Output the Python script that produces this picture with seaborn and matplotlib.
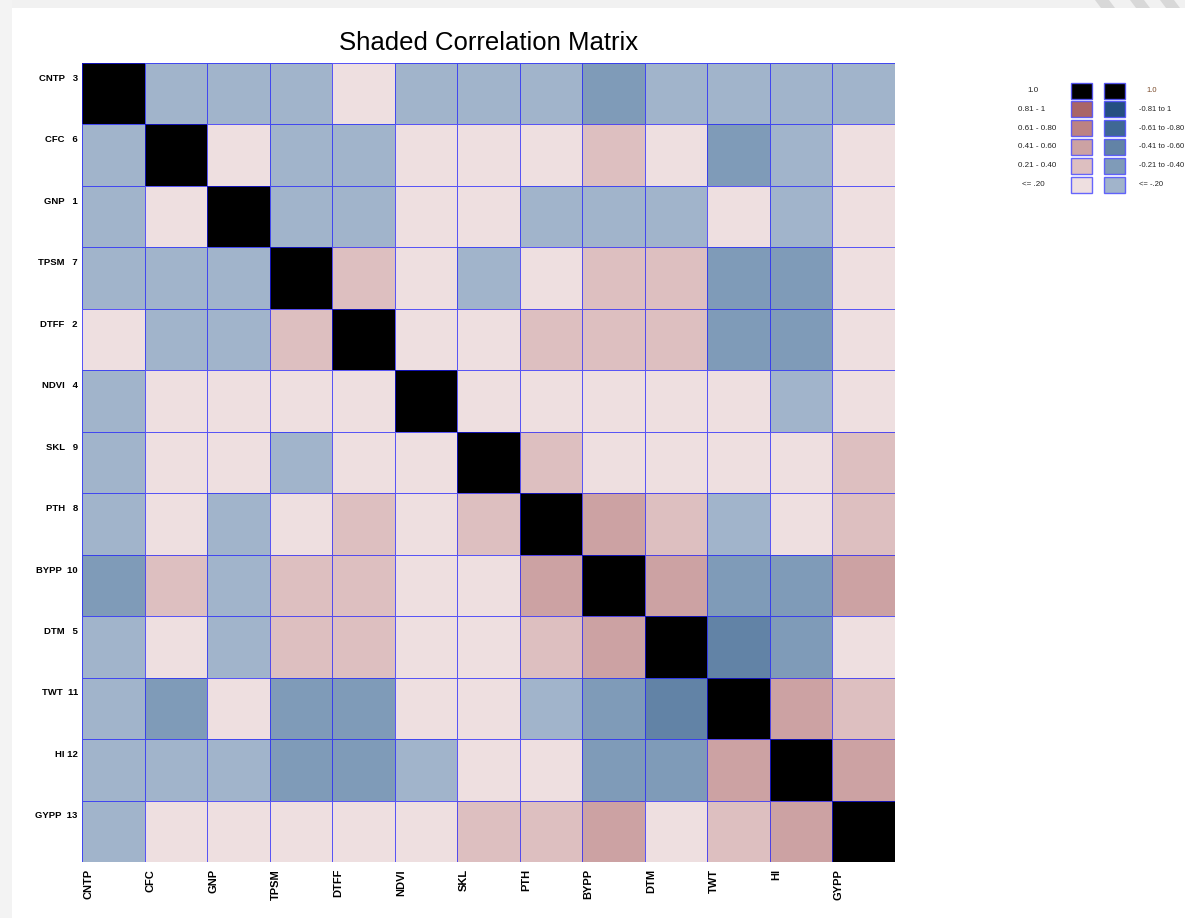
import numpy as np
import pandas as pd
import matplotlib
matplotlib.use("Agg")
import matplotlib.pyplot as plt
from matplotlib.colors import ListedColormap, BoundaryNorm
from matplotlib.patches import Rectangle, Polygon
import seaborn as sns

# ---------------- data ----------------
variables = ["CNTP", "CFC", "GNP", "TPSM", "DTFF", "NDVI", "SKL",
             "PTH", "BYPP", "DTM", "TWT", "HI", "GYPP"]
var_numbers = [3, 6, 1, 7, 2, 4, 9, 8, 10, 5, 11, 12, 13]

# approximate correlations read from the shading class of each cell
corr_rows = [
    [1.00, -0.12, -0.12, -0.12, 0.12, -0.12, -0.12, -0.12, -0.32, -0.12, -0.12, -0.12, -0.12],
    [-0.12, 1.00, 0.12, -0.12, -0.12, 0.12, 0.12, 0.12, 0.32, 0.12, -0.32, -0.12, 0.12],
    [-0.12, 0.12, 1.00, -0.12, -0.12, 0.12, 0.12, -0.12, -0.12, -0.12, 0.12, -0.12, 0.12],
    [-0.12, -0.12, -0.12, 1.00, 0.32, 0.12, -0.12, 0.12, 0.32, 0.32, -0.32, -0.32, 0.12],
    [0.12, -0.12, -0.12, 0.32, 1.00, 0.12, 0.12, 0.32, 0.32, 0.32, -0.32, -0.32, 0.12],
    [-0.12, 0.12, 0.12, 0.12, 0.12, 1.00, 0.12, 0.12, 0.12, 0.12, 0.12, -0.12, 0.12],
    [-0.12, 0.12, 0.12, -0.12, 0.12, 0.12, 1.00, 0.32, 0.12, 0.12, 0.12, 0.12, 0.32],
    [-0.12, 0.12, -0.12, 0.12, 0.32, 0.12, 0.32, 1.00, 0.52, 0.32, -0.12, 0.12, 0.32],
    [-0.32, 0.32, -0.12, 0.32, 0.32, 0.12, 0.12, 0.52, 1.00, 0.52, -0.32, -0.32, 0.52],
    [-0.12, 0.12, -0.12, 0.32, 0.32, 0.12, 0.12, 0.32, 0.52, 1.00, -0.50, -0.32, 0.12],
    [-0.12, -0.32, 0.12, -0.32, -0.32, 0.12, 0.12, -0.12, -0.32, -0.50, 1.00, 0.52, 0.32],
    [-0.12, -0.12, -0.12, -0.32, -0.32, -0.12, 0.12, 0.12, -0.32, -0.32, 0.52, 1.00, 0.52],
    [-0.12, 0.12, 0.12, 0.12, 0.12, 0.12, 0.32, 0.32, 0.52, 0.12, 0.32, 0.52, 1.00],
]

# legend classes
pos_labels = ["1.0", "0.81 - 1", "0.61 - 0.80", "0.41 - 0.60", "0.21 - 0.40", "<= .20"]
neg_labels = ["1.0", "-0.81 to 1", "-0.61 to -0.80", "-0.41 to -0.60", "-0.21 to -0.40", "<= -.20"]

# ---------------- colours / scale ----------------
neg_colors = ["#244F80", "#3F6894", "#6283A6", "#7F9BB8", "#A1B4CB"]   # -1 .. 0
pos_colors = ["#EEDFE0", "#DDBFC0", "#CCA2A3", "#BC8283", "#A96567"]   # 0 .. 1
diag_color = "#000000"
cmap = ListedColormap(neg_colors + pos_colors + [diag_color])
bounds = [-1.0, -0.805, -0.605, -0.405, -0.205, 0.0, 0.205, 0.405, 0.605, 0.805, 0.9999, 1.001]
norm = BoundaryNorm(bounds, cmap.N)

df = pd.DataFrame(corr_rows, index=variables, columns=variables)

# ---------------- figure ----------------
W, H = 1185, 918
fig = plt.figure(figsize=(W / 100, H / 100), dpi=100)
fig.patch.set_facecolor("white")

# page frame (light grey strips of the original screenshot)
bg = fig.add_axes([0, 0, 1, 1], zorder=0)
bg.set_xlim(0, W)
bg.set_ylim(H, 0)
bg.axis("off")
bg.add_patch(Rectangle((0, 0), W, 8, facecolor="#F1F1F1", edgecolor="none"))
bg.add_patch(Rectangle((0, 0), 12, H, facecolor="#F3F3F3", edgecolor="none"))
for x0 in [1095, 1130, 1160]:
    bg.add_patch(Polygon([(x0, 0), (x0 + 14, 0), (x0 + 20, 8), (x0 + 6, 8)],
                         closed=True, facecolor="#D8D8D8", edgecolor="none"))

ax_left, ax_right, ax_top, ax_bot = 82, 895, 63, 862
ax = fig.add_axes([ax_left / W, 1 - ax_bot / H, (ax_right - ax_left) / W, (ax_bot - ax_top) / H],
                  zorder=2)

sns.heatmap(df, ax=ax, cmap=cmap, norm=norm, cbar=False, square=False,
            linewidths=0.7, linecolor=(0.1, 0.1, 1.0, 0.7))

font = "Liberation Sans"
ax.set_xticks(np.arange(len(variables)) + 0.1)
ax.set_xticklabels(variables, rotation=90, fontsize=8, fontweight="bold",
                   family=font, va="top", ha="center")
ax.set_yticks(np.arange(len(variables)) + 0.25)
ylabels = [f"{v}   {n}" if len(str(n)) == 1 else f"{v}  {n}" for v, n in zip(variables, var_numbers)]
ylabels[variables.index("HI")] = "HI 12"
ax.set_yticklabels(ylabels, rotation=0, fontsize=6.8, fontweight="bold", family=font)
ax.tick_params(axis="both", length=0)
ax.tick_params(axis="y", pad=3)
ax.tick_params(axis="x", pad=5)
ax.set_xlabel("")
ax.set_ylabel("")

fig.text((ax_left + ax_right) / 2 / W, 1 - 43 / H, "Shaded Correlation Matrix",
         ha="center", va="center", fontsize=18.5, family=font)

# ---------------- legend ----------------
lg = fig.add_axes([0, 0, 1, 1], zorder=3)
lg.set_xlim(0, W)
lg.set_ylim(H, 0)
lg.axis("off")
row_y0, row_dy = 90.5, 18.8
box_w, box_h = 21, 16
pos_legend_colors = [diag_color, pos_colors[4], pos_colors[3], pos_colors[2], pos_colors[1], pos_colors[0]]
neg_legend_colors = [diag_color, neg_colors[0], neg_colors[1], neg_colors[2], neg_colors[3], neg_colors[4]]
left_x = [1027, 1018, 1018, 1018, 1018, 1022]
right_x = [1146, 1139, 1139, 1139, 1139, 1139]
for i in range(6):
    yc = row_y0 + i * row_dy
    lg.add_patch(Rectangle((1071, yc - box_h / 2), box_w, box_h, facecolor=pos_legend_colors[i],
                           edgecolor=(0.3, 0.3, 1.0, 0.85), linewidth=1.0))
    lg.add_patch(Rectangle((1104, yc - box_h / 2), box_w, box_h, facecolor=neg_legend_colors[i],
                           edgecolor=(0.3, 0.3, 1.0, 0.85), linewidth=1.0))
    lg.text(left_x[i], yc, pos_labels[i], ha="left", va="center", fontsize=5.8, family=font,
            color="#222222")
    lg.text(right_x[i], yc, neg_labels[i], ha="left", va="center", fontsize=5.5,
            family=font, color="#7A4A2A" if i == 0 else "#222222")

fig.savefig("out.png", dpi=100)
